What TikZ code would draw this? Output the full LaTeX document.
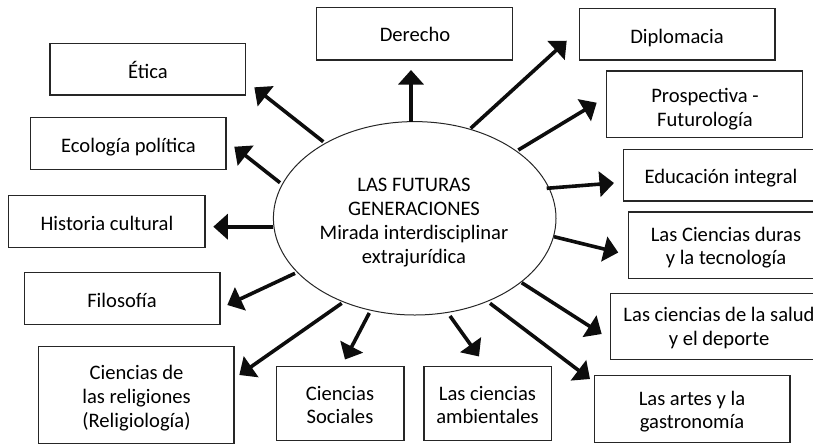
\documentclass[tikz,border=0pt]{standalone}
\usepackage{fontspec}
\setmainfont{Carlito}
\usetikzlibrary{arrows.meta,shapes.geometric}
\newcommand{\mlines}[1]{\begin{tabular}[t]{@{}c@{}}#1\end{tabular}}
\begin{document}
\begin{tikzpicture}[x=1pt,y=-1pt,
  boxnode/.style={draw=black!85, line width=1.1pt, rectangle, inner sep=0pt},
  lbl/.style={anchor=base, inner sep=0pt, text=black, font=\fontsize{20.6}{23.8}\selectfont},
  arr/.style={line width=3.6pt, draw=black!95, -{Triangle[length=14.5pt,width=25pt]}}]
\useasboundingbox (0,0) rectangle (813,445);

% central ellipse
\node[draw=black!85, line width=1pt, ellipse, minimum width=282.6pt, minimum height=193.4pt, inner sep=0pt] (c) at (414.7,218.3) {};
\node[lbl] (ctext) at (414,191.7) {\mlines{LAS FUTURAS\\GENERACIONES\\Mirada interdisciplinar\\extrajurídica}};

% boxes
\node[boxnode, minimum width=196pt, minimum height=52.7pt] (derecho) at (414.7,33.65) {};
\node[boxnode, minimum width=195.7pt, minimum height=51.7pt] (etica) at (147.85,69.15) {};
\node[boxnode, minimum width=195.3pt, minimum height=52pt] (ecologia) at (128.35,143.3) {};
\node[boxnode, minimum width=196.7pt, minimum height=52pt] (historia) at (106.65,221.7) {};
\node[boxnode, minimum width=195.7pt, minimum height=52pt] (filosofia) at (122.15,298.3) {};
\node[boxnode, minimum width=195.7pt, minimum height=96.6pt] (religiones) at (136.15,395) {};
\node[boxnode, minimum width=127.3pt, minimum height=73.8pt] (sociales) at (340.35,403.6) {};
\node[boxnode, minimum width=127.7pt, minimum height=73.8pt] (ambientales) at (487.85,403.6) {};
\node[boxnode, minimum width=195.7pt, minimum height=67pt] (artes) at (692.15,409.2) {};
\node[boxnode, minimum width=216.3pt, minimum height=66pt] (salud) at (718.85,326.3) {};
\node[boxnode, minimum width=195.7pt, minimum height=66.3pt] (duras) at (726.15,245.15) {};
\node[boxnode, minimum width=195.7pt, minimum height=51.7pt] (educacion) at (721.15,175.15) {};
\node[boxnode, minimum width=195.6pt, minimum height=66.3pt] (prospectiva) at (704.5,104.15) {};
\node[boxnode, minimum width=195.7pt, minimum height=51.7pt] (diplomacia) at (677.15,34.15) {};

% labels
\node[lbl] (tderecho) at (415,41.7) {Derecho};
\node[lbl] (tetica) at (148,78.3) {Ética};
\node[lbl] (tecologia) at (128.5,152.7) {Ecología política};
\node[lbl] (thistoria) at (107,230.7) {Historia cultural};
\node[lbl] (tfilosofia) at (122,307.3) {Filosofía};
\node[lbl] (treligiones) at (136.5,379.8) {\mlines{Ciencias de\\las religiones\\(Religiología)}};
\node[lbl] (tsociales) at (340,400) {\mlines{Ciencias\\Sociales}};
\node[lbl] (tambientales) at (487.5,400) {\mlines{Las ciencias\\ambientales}};
\node[lbl] (tartes) at (692,405) {\mlines{Las artes y la\\gastronomía}};
\node[lbl] (tsalud) at (719,321.7) {\mlines{Las ciencias de la salud\\y el deporte}};
\node[lbl] (tduras) at (726,241) {\mlines{Las Ciencias duras\\y la tecnología}};
\node[lbl] (teducacion) at (721,183.3) {Educación integral};
\node[lbl] (tprospectiva) at (705,102.7) {\mlines{Prospectiva -\\Futurología}};
\node[lbl] (tdiplomacia) at (677,43.3) {Diplomacia};

% arrow endpoints
\coordinate (sDer) at (411,121.7);   \coordinate (eDer) at (411,70);
\coordinate (sEti) at (323.3,141.7); \coordinate (eEti) at (254.3,87.3);
\coordinate (sEco) at (280,182.7);   \coordinate (eEco) at (234.3,146.7);
\coordinate (sHis) at (273.3,226.7); \coordinate (eHis) at (213.3,226.7);
\coordinate (sFil) at (295,273.3);   \coordinate (eFil) at (227.3,305);
\coordinate (sRel) at (341.7,303.3); \coordinate (eRel) at (239.3,375);
\coordinate (sSoc) at (369.3,313);   \coordinate (eSoc) at (345,359.5);
\coordinate (sAmb) at (450,316);     \coordinate (eAmb) at (479,356.5);
\coordinate (sArt) at (490,303.3);   \coordinate (eArt) at (590,379);
\coordinate (sSal) at (521.7,282.7); \coordinate (eSal) at (601.7,334);
\coordinate (sDur) at (554,236.7);   \coordinate (eDur) at (618.3,252.5);
\coordinate (sEdu) at (546.7,188.3); \coordinate (eEdu) at (614,183);
\coordinate (sPro) at (518.3,150);   \coordinate (ePro) at (596.7,102.7);
\coordinate (sDip) at (470.7,128.3); \coordinate (eDip) at (566.7,40.7);

\foreach \n in {Der,Eti,Eco,His,Fil,Rel,Soc,Amb,Art,Sal,Dur,Edu,Pro,Dip}
  \draw[arr] (s\n) -- (e\n);
\end{tikzpicture}
\end{document}
